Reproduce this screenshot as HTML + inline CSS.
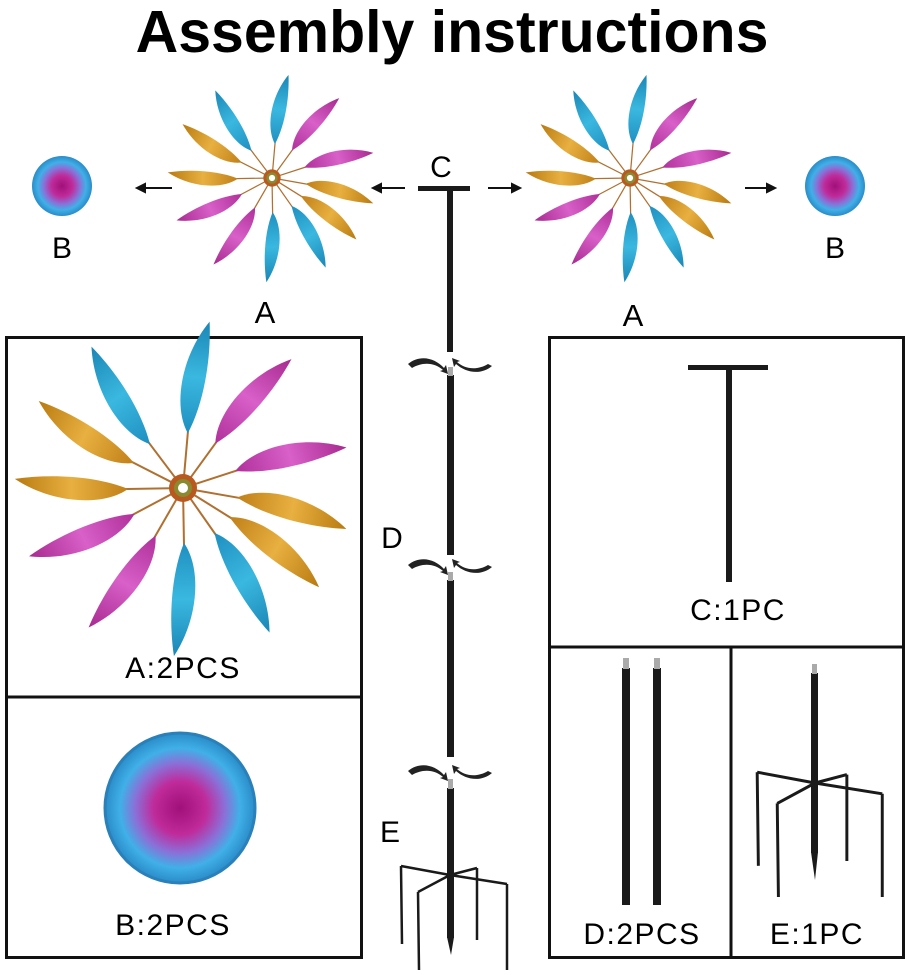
<!DOCTYPE html>
<html><head><meta charset="utf-8"><style>
html,body{margin:0;padding:0;background:#fff;}
svg{display:block;}
text{font-family:"Liberation Sans",sans-serif;}
</style></head><body>
<svg width="909" height="975" viewBox="0 0 909 975" xmlns="http://www.w3.org/2000/svg">
<defs>
<linearGradient id="gb" x1="0" x2="1"><stop offset="0" stop-color="#1f8fc0"/><stop offset="0.5" stop-color="#3ab8e0"/><stop offset="1" stop-color="#1a86b5"/></linearGradient>
<linearGradient id="gp" x1="0" x2="1"><stop offset="0" stop-color="#b0309a"/><stop offset="0.5" stop-color="#d860c8"/><stop offset="1" stop-color="#a82a90"/></linearGradient>
<linearGradient id="gg" x1="0" x2="1"><stop offset="0" stop-color="#c08018"/><stop offset="0.5" stop-color="#e8b040"/><stop offset="1" stop-color="#b87a10"/></linearGradient>
<radialGradient id="ball"><stop offset="0" stop-color="#a0107a"/><stop offset="0.35" stop-color="#c02a9a"/><stop offset="0.6" stop-color="#8a70d8"/><stop offset="0.8" stop-color="#40b0e8"/><stop offset="1" stop-color="#2a8cc8"/></radialGradient>
<g id="leaf"><line x1="12" y1="0" x2="58" y2="0" stroke="#b07030" stroke-width="2"/><path d="M55,0 C80,-17 130,-14 168,12 C130,17 85,13 55,0Z"/></g>
<g id="pw">
<use href="#leaf" fill="url(#gb)" transform="rotate(-127)"/>
<use href="#leaf" fill="url(#gb)" transform="rotate(-85)"/>
<use href="#leaf" fill="url(#gp)" transform="rotate(-54)"/>
<use href="#leaf" fill="url(#gp)" transform="rotate(-18)"/>
<use href="#leaf" fill="url(#gg)" transform="rotate(10)"/>
<use href="#leaf" fill="url(#gg)" transform="rotate(32)"/>
<use href="#leaf" fill="url(#gb)" transform="rotate(55)"/>
<use href="#leaf" fill="url(#gb)" transform="rotate(89)"/>
<use href="#leaf" fill="url(#gp)" transform="rotate(120)"/>
<use href="#leaf" fill="url(#gp)" transform="rotate(152)"/>
<use href="#leaf" fill="url(#gg)" transform="rotate(179)"/>
<use href="#leaf" fill="url(#gg)" transform="rotate(-153)"/>
<circle r="14" fill="#b85a20"/><circle r="9" fill="#8a8a30"/><circle r="5" fill="#fff"/>
</g>
<g id="rot" fill="#222">
<path d="M-42,2 C-30,-8 -15,-4 -6,6 L-4,3 L-2,12 L-10,9 L-7,8 C-16,0 -28,0 -38,6Z"/>
<path d="M42,4 C30,14 15,10 6,2 L4,5 L2,-4 L10,-1 L7,0 C16,8 28,8 38,2Z"/>
</g>
<g id="stake" stroke="#1a1a1a" fill="none" stroke-width="2.5">
<path d="M-49,-9 L0,0 M-32,17 L0,0 M27,-7 L0,0 M57,9 L0,0"/>
<path d="M-49,-9 L-48,69 M-32,17 L-31,95 M27,-7 L27,65 M57,9 L57,95"/>
</g>
</defs>

<text x="452" y="52" font-size="59" font-weight="bold" text-anchor="middle" fill="#000">Assembly instructions</text>

<circle cx="62" cy="186" r="30" fill="url(#ball)"/>
<circle cx="835" cy="186" r="30" fill="url(#ball)"/>
<use href="#pw" transform="translate(272,178) scale(0.62)"/>
<use href="#pw" transform="translate(630,178) scale(0.62)"/>
<text x="62" y="258" font-size="30" text-anchor="middle">B</text>
<text x="835" y="258" font-size="30" text-anchor="middle">B</text>
<text x="265" y="323" font-size="31" text-anchor="middle">A</text>
<text x="633" y="326" font-size="31" text-anchor="middle">A</text>
<text x="441" y="177" font-size="30" text-anchor="middle">C</text>
<g stroke="#111" stroke-width="2" fill="#111">
<line x1="172" y1="188" x2="142" y2="188"/><path d="M137,188 l8,-4 v8z"/>
<line x1="405" y1="188" x2="378" y2="188"/><path d="M373,188 l8,-4 v8z"/>
<line x1="488" y1="188" x2="515" y2="188"/><path d="M520,188 l-8,-4 v8z"/>
<line x1="745" y1="188" x2="770" y2="188"/><path d="M775,188 l-8,-4 v8z"/>
</g>

<g fill="#1a1a1a">
<rect x="418" y="186" width="52" height="5"/>
<rect x="447" y="188" width="6" height="164"/>
<rect x="447" y="375" width="7" height="180"/>
<rect x="448" y="367" width="5" height="9" fill="#aaa"/>
<rect x="447" y="580" width="7" height="177"/>
<rect x="448" y="572" width="5" height="9" fill="#aaa"/>
<rect x="447" y="788" width="7" height="150"/>
<rect x="448" y="779" width="5" height="10" fill="#aaa"/>
<path d="M447,937 L454,937 L451,955Z"/>
</g>
<use href="#rot" transform="translate(450,362)"/>
<use href="#rot" transform="translate(450,563)"/>
<use href="#rot" transform="translate(450,769)"/>
<use href="#stake" transform="translate(450,875)"/>
<text x="392" y="548" font-size="30" text-anchor="middle">D</text>
<text x="390" y="842" font-size="30" text-anchor="middle">E</text>

<rect x="6.5" y="337.5" width="355" height="620" fill="none" stroke="#111" stroke-width="3"/>
<line x1="6" y1="697" x2="362" y2="697" stroke="#111" stroke-width="3"/>
<use href="#pw" transform="translate(183,488)"/>
<text x="183" y="678" font-size="30" text-anchor="middle" letter-spacing="1.5">A:2PCS</text>
<circle cx="180" cy="808" r="75" fill="url(#ball)"/>
<circle cx="180" cy="808" r="75" fill="none" stroke="#2a80b8" stroke-width="3"/>
<text x="173" y="935" font-size="30" text-anchor="middle" letter-spacing="1.5">B:2PCS</text>

<rect x="549.5" y="337.5" width="354" height="620" fill="none" stroke="#111" stroke-width="3"/>
<line x1="549" y1="647" x2="904" y2="647" stroke="#111" stroke-width="3"/>
<line x1="731" y1="647" x2="731" y2="958" stroke="#111" stroke-width="3"/>
<g fill="#1a1a1a">
<rect x="688" y="365" width="80" height="5"/>
<rect x="726" y="367" width="6" height="215"/>
<rect x="622" y="668" width="8" height="237"/>
<rect x="623" y="658" width="6" height="11" fill="#aaa"/>
<rect x="653" y="668" width="8" height="237"/>
<rect x="654" y="658" width="6" height="11" fill="#aaa"/>
<rect x="811" y="673" width="7" height="180"/>
<rect x="812" y="664" width="5" height="10" fill="#aaa"/>
<path d="M811,852 L818,852 L815,880Z"/>
</g>
<use href="#stake" transform="translate(815,783) scale(1.18,1.2)"/>
<text x="738" y="620" font-size="30" text-anchor="middle" letter-spacing="1.5">C:1PC</text>
<text x="642" y="944" font-size="30" text-anchor="middle" letter-spacing="1.5">D:2PCS</text>
<text x="817" y="944" font-size="30" text-anchor="middle" letter-spacing="1.5">E:1PC</text>
</svg>
</body></html>
